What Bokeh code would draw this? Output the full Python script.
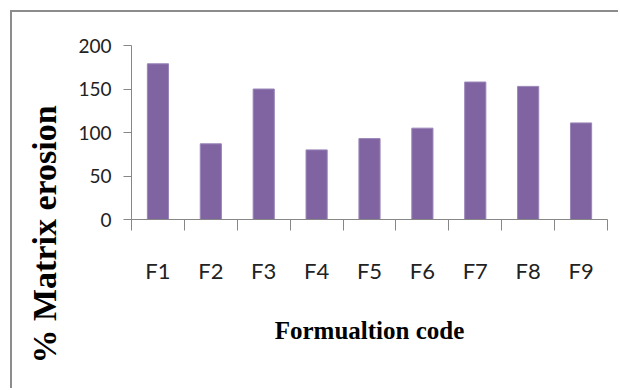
from bokeh.plotting import figure
from bokeh.models import (FactorRange, Range1d, LinearAxis, CategoricalAxis,
                          FixedTicker, Title)
from bokeh.embed import file_html
from bokeh.resources import INLINE

# Matrix erosion (%) per formulation
codes = ["F1", "F2", "F3", "F4", "F5", "F6", "F7", "F8", "F9"]
erosion = [179, 87, 150, 80, 93, 105, 158, 153, 111]
y_ticks = [0, 50, 100, 150, 200]

AXIS_GREY = "#878787"
BAR = "#8064A2"

p = figure(
    width=608, height=378,
    x_range=FactorRange(*codes), y_range=Range1d(0, 200),
    x_axis_location=None, y_axis_location=None,
    output_backend="svg", toolbar_location=None,
    min_border_left=118, min_border_right=13,
    min_border_top=33, min_border_bottom=171,
)
p.margin = (10, 0, 0, 10)
p.styles = {"border-top": "2px solid #8c8c8c", "border-left": "2px solid #8c8c8c"}
p.outline_line_color = None
p.grid.visible = False

p.vbar(x=codes, top=erosion, width=0.4, fill_color=BAR, line_color="#9a86b8", line_width=1)

# y axis
yax = LinearAxis(ticker=FixedTicker(ticks=y_ticks))
yax.axis_line_color = AXIS_GREY
yax.major_tick_line_color = AXIS_GREY
yax.major_tick_out = 8
yax.major_tick_in = 0
yax.minor_tick_line_color = None
yax.major_label_standoff = 12
yax.major_label_text_font = "Lato"
yax.major_label_text_font_size = "19px"
yax.major_label_text_color = "#222222"
p.add_layout(yax, "left")

# vertical axis title, set below the frame's centre
ytitle = Title(text="% Matrix erosion", align="left", offset=-144,
               vertical_align="middle", standoff=24,
               text_font="Liberation Serif", text_font_style="bold",
               text_font_size="34px", text_color="#000000")
p.add_layout(ytitle, "left")

# x axis: tick marks on the boundaries between categories
# (synthetic coordinates 0..n of the factor range), labels left blank
edges = list(range(len(codes) + 1))
xedge = LinearAxis(ticker=FixedTicker(ticks=edges))
xedge.axis_line_color = AXIS_GREY
xedge.major_tick_line_color = AXIS_GREY
xedge.major_tick_out = 11
xedge.major_tick_in = 0
xedge.minor_tick_line_color = None
xedge.major_label_overrides = {e: "" for e in edges}
xedge.major_label_standoff = 0
p.add_layout(xedge, "below")

# x axis: category labels
xcat = CategoricalAxis()
xcat.axis_line_color = None
xcat.major_tick_line_color = None
xcat.major_label_standoff = 20
xcat.major_label_text_font = "Lato"
xcat.major_label_text_font_size = "22px"
xcat.major_label_text_color = "#222222"
xcat.axis_label = "Formualtion code"
xcat.axis_label_text_font = "Liberation Serif"
xcat.axis_label_text_font_style = "bold"
xcat.axis_label_text_font_size = "25px"
xcat.axis_label_text_color = "#000000"
xcat.axis_label_standoff = 30
p.add_layout(xcat, "below")

open("out.html", "w").write(file_html(p, INLINE))
